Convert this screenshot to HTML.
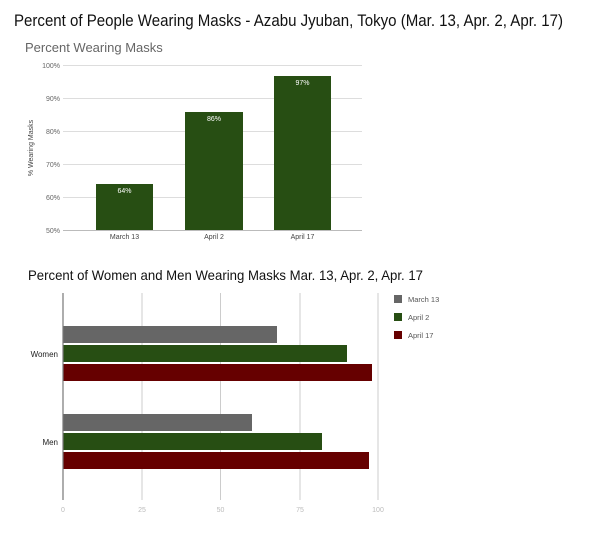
<!DOCTYPE html>
<html><head><meta charset="utf-8"><style>
html,body{margin:0;padding:0;background:#fff;}
svg{display:block;font-family:"Liberation Sans",sans-serif;}
</style></head><body>
<svg width="600" height="533" viewBox="0 0 600 533" xmlns="http://www.w3.org/2000/svg">
<rect width="600" height="533" fill="#fff"/>
<text x="14" y="26" font-size="16.5" fill="#111" textLength="549" lengthAdjust="spacingAndGlyphs">Percent of People Wearing Masks - Azabu Jyuban, Tokyo (Mar. 13, Apr. 2, Apr. 17)</text>
<text x="25" y="52" font-size="13" fill="#666">Percent Wearing Masks</text>
<g stroke="#ddd" stroke-width="1">
<line x1="63" y1="65.5" x2="362" y2="65.5"/>
<line x1="63" y1="98.5" x2="362" y2="98.5"/>
<line x1="63" y1="131.5" x2="362" y2="131.5"/>
<line x1="63" y1="164.5" x2="362" y2="164.5"/>
<line x1="63" y1="197.5" x2="362" y2="197.5"/>
</g>
<line x1="63" y1="230.5" x2="362" y2="230.5" stroke="#bbb"/>
<g font-size="7" fill="#666" text-anchor="end">
<text x="60" y="68">100%</text><text x="60" y="101">90%</text><text x="60" y="134">80%</text>
<text x="60" y="167">70%</text><text x="60" y="200">60%</text><text x="60" y="233">50%</text>
</g>
<text transform="translate(33,148) rotate(-90)" font-size="7" fill="#444" text-anchor="middle">% Wearing Masks</text>
<g fill="#274e13">
<rect x="96" y="184" width="57" height="46"/>
<rect x="185" y="112" width="58" height="118"/>
<rect x="274" y="76" width="57" height="154"/>
</g>
<g font-size="7" fill="#fff" text-anchor="middle">
<text x="124.5" y="193">64%</text><text x="214" y="121">86%</text><text x="302.5" y="85">97%</text>
</g>
<g font-size="7" fill="#444" text-anchor="middle">
<text x="124.5" y="239">March 13</text><text x="214" y="239">April 2</text><text x="302.5" y="239">April 17</text>
</g>
<text x="28" y="280" font-size="14" fill="#111" textLength="395" lengthAdjust="spacingAndGlyphs">Percent of Women and Men Wearing Masks Mar. 13, Apr. 2, Apr. 17</text>
<g stroke="#ccc" stroke-width="1">
<line x1="142" y1="293" x2="142" y2="500"/>
<line x1="220.5" y1="293" x2="220.5" y2="500"/>
<line x1="300" y1="293" x2="300" y2="500"/>
<line x1="378" y1="293" x2="378" y2="500"/>
</g>
<g font-size="7" fill="#bbb" text-anchor="middle">
<text x="63" y="512">0</text><text x="142" y="512">25</text><text x="220.5" y="512">50</text><text x="300" y="512">75</text><text x="378" y="512">100</text>
</g>
<rect x="63" y="326" width="214" height="17" fill="#666"/>
<rect x="63" y="345" width="284" height="17" fill="#274e13"/>
<rect x="63" y="364" width="309" height="17" fill="#660000"/>
<rect x="63" y="414" width="189" height="17" fill="#666"/>
<rect x="63" y="433" width="259" height="17" fill="#274e13"/>
<rect x="63" y="452" width="306" height="17" fill="#660000"/>
<line x1="63" y1="293" x2="63" y2="500" stroke="#777" stroke-width="1.2"/>
<g font-size="8" fill="#222" text-anchor="end">
<text x="58" y="357">Women</text><text x="58" y="445">Men</text>
</g>
<rect x="394" y="295" width="8" height="8" fill="#666"/>
<rect x="394" y="313" width="8" height="8" fill="#274e13"/>
<rect x="394" y="331" width="8" height="8" fill="#660000"/>
<g font-size="7.5" fill="#555">
<text x="408" y="302">March 13</text><text x="408" y="320">April 2</text><text x="408" y="338">April 17</text>
</g>
</svg>
</body></html>
